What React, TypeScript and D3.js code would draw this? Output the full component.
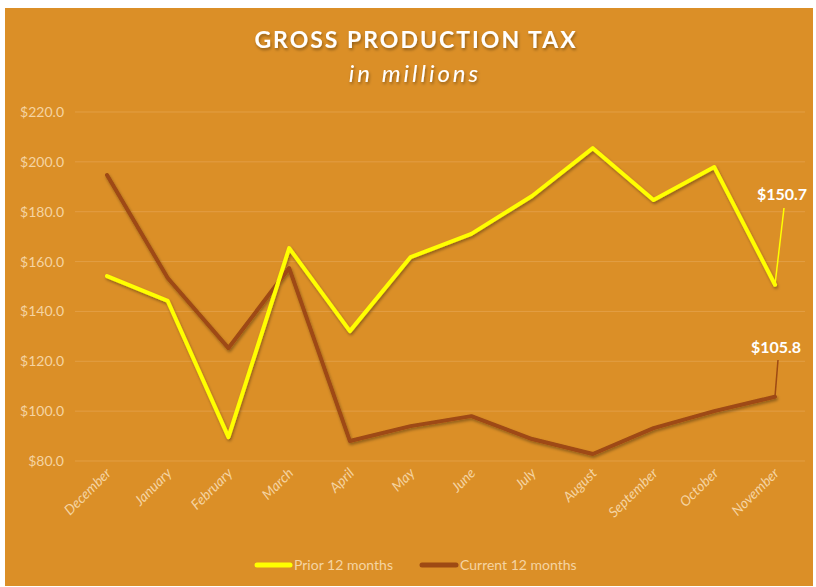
import * as d3 from "d3";

const months = ["December", "January", "February", "March", "April", "May", "June", "July", "August", "September", "October", "November"];
const prior = [154.2, 144.2, 89.6, 165.4, 132.1, 161.8, 171.1, 186.3, 205.5, 184.7, 197.9, 150.7];
const current = [194.7, 153.4, 125.3, 157.4, 88.0, 94.0, 98.0, 88.8, 82.8, 93.2, 100.0, 105.8];
const yTicks = [80, 100, 120, 140, 160, 180, 200, 220];

const W = 816;
const H = 587;
const font = "Lato, 'Open Sans', sans-serif";

export default function App() {
  const x = d3.scalePoint<string>().domain(months).range([107, 775]);
  const y = d3.scaleLinear().domain([80, 220]).range([461, 112]);
  const line = d3
    .line<number>()
    .x((_, i) => x(months[i]) as number)
    .y((d) => y(d));
  const fmt = (v: number) => "$" + v.toFixed(1);
  const last = months.length - 1;
  const lx = x(months[last]) as number;

  return (
    <svg width={W} height={H} style={{ position: "absolute", left: 0, top: 0 }}>
      <defs>
        <filter id="sh" x="-10%" y="-10%" width="120%" height="130%">
          <feDropShadow dx="1" dy="2" stdDeviation="1.5" floodColor="#000" floodOpacity="0.35" />
        </filter>
      </defs>
      <rect x={5} y={8} width={808} height={578} fill="#DB8F27" />
      <text x={416} y={48} textAnchor="middle" fill="#fff" fontFamily={font} fontWeight="bold" fontSize={23} letterSpacing={2} filter="url(#sh)">
        GROSS PRODUCTION TAX
      </text>
      <text x={415} y={82} textAnchor="middle" fill="#fff" fontFamily={font} fontStyle="italic" fontSize={24} letterSpacing={3} filter="url(#sh)">
        in millions
      </text>
      {yTicks.map((t) => (
        <g key={t}>
          <line x1={75} x2={805} y1={y(t)} y2={y(t)} stroke="#E29E45" strokeWidth={1} />
          <text x={64} y={y(t) + 5} textAnchor="end" fill="#F5D4A2" fontFamily={font} fontSize={14}>
            {fmt(t)}
          </text>
        </g>
      ))}
      {months.map((m) => (
        <text
          key={m}
          transform={`translate(${(x(m) as number) + 5},${474}) rotate(-45)`}
          textAnchor="end"
          fill="#F5D4A2"
          fontFamily={font}
          fontStyle="italic"
          fontSize={14}
        >
          {m}
        </text>
      ))}
      <g filter="url(#sh)">
        <path d={line(current) ?? ""} fill="none" stroke="#9E4A13" strokeWidth={4} strokeLinejoin="round" strokeLinecap="round" />
        <path d={line(prior) ?? ""} fill="none" stroke="#FFFF00" strokeWidth={4} strokeLinejoin="round" strokeLinecap="round" />
      </g>
      <line x1={lx} y1={y(prior[last])} x2={784} y2={208} stroke="#FFFF00" strokeWidth={1.5} />
      <text x={782} y={200} textAnchor="middle" fill="#fff" fontFamily={font} fontWeight="bold" fontSize={16}>
        {fmt(prior[last])}
      </text>
      <line x1={lx} y1={y(current[last])} x2={778} y2={360} stroke="#9E4A13" strokeWidth={1.5} />
      <text x={776} y={353} textAnchor="middle" fill="#fff" fontFamily={font} fontWeight="bold" fontSize={16}>
        {fmt(current[last])}
      </text>
      <line x1={257} x2={290} y1={565} y2={565} stroke="#FFFF00" strokeWidth={5} strokeLinecap="round" />
      <text x={294} y={570} fill="#F5D4A2" fontFamily={font} fontSize={14}>
        Prior 12 months
      </text>
      <line x1={422} x2={456} y1={565} y2={565} stroke="#9E4A13" strokeWidth={5} strokeLinecap="round" />
      <text x={460} y={570} fill="#F5D4A2" fontFamily={font} fontSize={14}>
        Current 12 months
      </text>
    </svg>
  );
}
